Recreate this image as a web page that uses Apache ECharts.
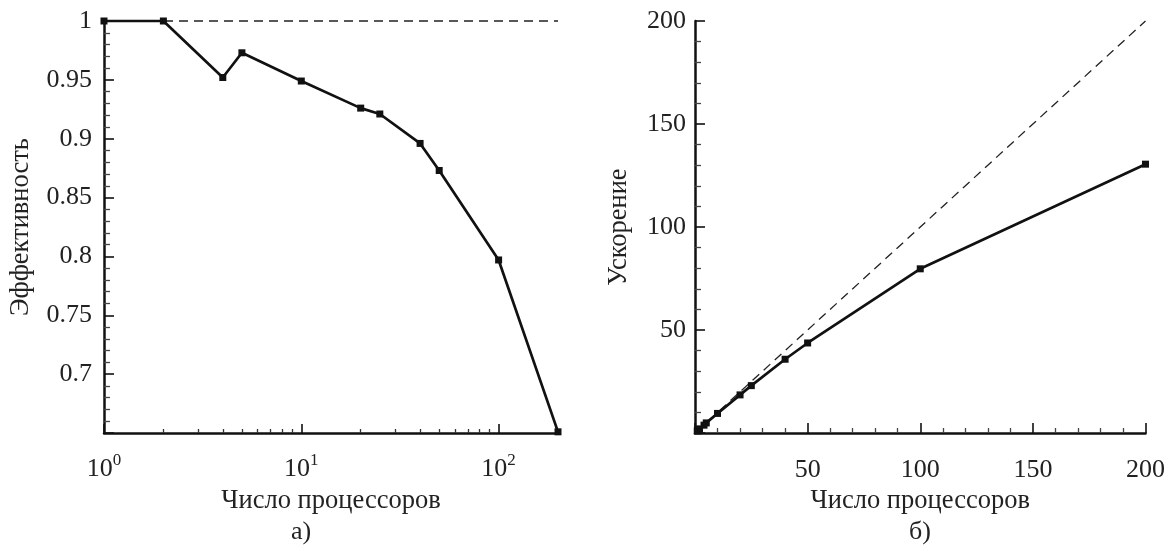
<!DOCTYPE html>
<html>
<head>
<meta charset="utf-8">
<title>Эффективность и ускорение</title>
<script src="https://cdn.jsdelivr.net/npm/echarts@6/dist/echarts.min.js"></script>
<style>
  html, body { margin: 0; padding: 0; background: #fff; }
  #chart { width: 1168px; height: 548px; }
</style>
</head>
<body>
<div id="chart"></div>
<script>
// данные
const procs = [1, 2, 4, 5, 10, 20, 25, 40, 50, 100, 200]
const efficiency = [1, 1, 0.952, 0.973, 0.949, 0.926, 0.921, 0.896, 0.873, 0.797, 0.651]
const speedup = [1, 2, 3.8, 4.9, 9.5, 18.5, 23, 35.8, 43.7, 79.7, 130.5]

// идеальные линии (штриховые)
const idealX = [1, 200]
const idealEff = [1, 1]
const idealSpeedup = [1, 200]

// деления логарифмической оси
const logMajorTicks = [1, 10, 100]
const logMinorTicks = [2, 3, 4, 5, 6, 7, 8, 9, 20, 30, 40, 50, 60, 70, 80, 90]

const font = '"Liberation Serif", "Times New Roman", serif'
const ink = '#111'
const textColor = '#222'

const toPairs = (xs, ys) => xs.map((x, i) => [x, ys[i]])

const chart = echarts.init(document.getElementById('chart'))

const axisLine = { lineStyle: { color: ink, width: 2.5 } }
const nameStyle = { fontFamily: font, fontSize: 26.5, color: textColor }
const labelStyle = { fontFamily: font, fontSize: 26, color: textColor }

chart.setOption({
  animation: false,
  backgroundColor: '#fff',
  grid: [
    { left: 104, top: 21, width: 454, height: 412 },
    { left: 695, top: 21, width: 457, height: 412 }
  ],
  xAxis: [
    {
      // левый график, основные деления
      type: 'log',
      logBase: 10,
      gridIndex: 0,
      position: 'bottom',
      min: 1,
      max: 200,
      axisLine: axisLine,
      axisTick: { inside: true, length: 9, customValues: logMajorTicks, lineStyle: { color: ink, width: 1.6 } },
      axisLabel: {
        customValues: logMajorTicks,
        margin: 19,
        formatter: v => '{b|10}{s|' + Math.round(Math.log10(v)) + '}',
        rich: {
          b: { fontFamily: font, fontSize: 26, color: textColor, lineHeight: 35 },
          s: { fontFamily: font, fontSize: 17, color: textColor, verticalAlign: 'top' }
        }
      },
      splitLine: { show: false },
      name: 'Число процессоров',
      nameLocation: 'middle',
      nameGap: 49,
      nameTextStyle: nameStyle
    },
    {
      // левый график, промежуточные деления
      type: 'log',
      logBase: 10,
      gridIndex: 0,
      position: 'bottom',
      min: 1,
      max: 200,
      axisLine: { show: false },
      axisTick: { inside: true, length: 4, customValues: logMinorTicks, lineStyle: { color: '#333', width: 1.3 } },
      axisLabel: { show: false },
      splitLine: { show: false }
    },
    {
      type: 'value',
      gridIndex: 1,
      min: 0,
      max: 200,
      interval: 50,
      axisLine: axisLine,
      axisTick: { inside: true, length: 10, lineStyle: { color: ink, width: 1.6 } },
      minorTick: { show: true, splitNumber: 5, length: 5, lineStyle: { color: '#444', width: 1.3 } },
      axisLabel: Object.assign({ margin: 24, showMinLabel: false }, labelStyle),
      splitLine: { show: false },
      name: 'Число процессоров',
      nameLocation: 'middle',
      nameGap: 49,
      nameTextStyle: nameStyle
    }
  ],
  yAxis: [
    {
      type: 'value',
      gridIndex: 0,
      min: 0.65,
      max: 1,
      interval: 0.05,
      axisLine: axisLine,
      axisTick: { inside: true, length: 10, lineStyle: { color: ink, width: 1.6 } },
      minorTick: { show: true, splitNumber: 5, length: 6, lineStyle: { color: '#444', width: 1.3 } },
      axisLabel: Object.assign({ margin: 12, showMinLabel: false }, labelStyle),
      splitLine: { show: false },
      name: 'Эффективность',
      nameLocation: 'middle',
      nameGap: 69,
      nameTextStyle: nameStyle
    },
    {
      type: 'value',
      gridIndex: 1,
      min: 0,
      max: 200,
      interval: 50,
      axisLine: axisLine,
      axisTick: { inside: true, length: 10, lineStyle: { color: ink, width: 1.6 } },
      minorTick: { show: true, splitNumber: 5, length: 6, lineStyle: { color: '#444', width: 1.3 } },
      axisLabel: Object.assign({ margin: 9, showMinLabel: false }, labelStyle),
      splitLine: { show: false },
      name: 'Ускорение',
      nameLocation: 'middle',
      nameGap: 62,
      nameTextStyle: nameStyle
    }
  ],
  series: [
    {
      type: 'line',
      xAxisIndex: 0,
      yAxisIndex: 0,
      data: toPairs(idealX, idealEff),
      symbol: 'none',
      clip: false,
      z: 1,
      lineStyle: { color: '#222', width: 1.3, type: [9, 6] }
    },
    {
      type: 'line',
      xAxisIndex: 0,
      yAxisIndex: 0,
      data: toPairs(procs, efficiency),
      symbol: 'rect',
      symbolSize: 7,
      clip: false,
      z: 3,
      itemStyle: { color: ink },
      lineStyle: { color: ink, width: 2.7 }
    },
    {
      type: 'line',
      xAxisIndex: 2,
      yAxisIndex: 1,
      data: toPairs(idealX, idealSpeedup),
      symbol: 'none',
      clip: false,
      z: 1,
      lineStyle: { color: '#222', width: 1.3, type: [9, 6] }
    },
    {
      type: 'line',
      xAxisIndex: 2,
      yAxisIndex: 1,
      data: toPairs(procs, speedup),
      symbol: 'rect',
      symbolSize: 7,
      clip: false,
      z: 3,
      itemStyle: { color: ink },
      lineStyle: { color: ink, width: 2.7 }
    }
  ],
  graphic: [
    {
      type: 'text',
      x: 301,
      y: 532,
      style: { text: 'а)', font: '26px ' + font, fill: textColor, align: 'center', verticalAlign: 'middle' }
    },
    {
      type: 'text',
      x: 920,
      y: 532,
      style: { text: 'б)', font: '26px ' + font, fill: textColor, align: 'center', verticalAlign: 'middle' }
    }
  ]
})
</script>
</body>
</html>
